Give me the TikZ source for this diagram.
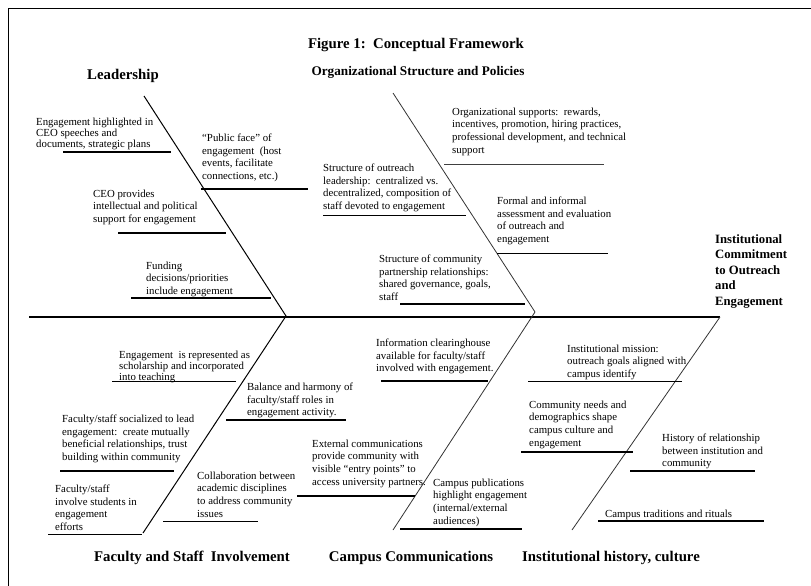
\documentclass[tikz,border=0pt]{standalone}
\usepackage{fontspec}
\setmainfont{Liberation Serif}
\begin{document}
\begin{tikzpicture}[x=1pt,y=-1pt,
    txt/.style={anchor=north west,inner sep=0pt,align=left,yshift=-2.5pt,
      font=\fontsize{10.8}{12.7}\selectfont,execute at begin node=\strut},
    head/.style={anchor=base,inner sep=0pt,font=\bfseries\fontsize{14.8}{17}\selectfont},
    bone/.style={line width=2pt},
    thinbone/.style={line width=1pt},
    spine/.style={line width=1pt,line join=miter},
    thinspine/.style={line width=0.8pt,black!80,line join=miter},
    mainspine/.style={line width=2.3pt}]
        \useasboundingbox (0,0) rectangle (811,586);
        \draw[line width=1pt] (8.5,586) -- (8.5,8.5) -- (811,8.5);

        \coordinate (lead) at (144,96);
        \coordinate (j1) at (286,316);
        \coordinate (fac) at (143,533);
        \coordinate (org) at (393,93);
        \coordinate (j2) at (535,312);
        \coordinate (camp) at (393,530);
        \coordinate (tail) at (29,317);
        \coordinate (effect) at (720,317);
        \coordinate (hist) at (572,530);

        \draw[mainspine] (tail) -- (effect);
        \draw[spine] (lead) -- (j1) -- (fac);
        \draw[thinspine] (org) -- (j2) -- (camp);
        \draw[thinspine] (effect) -- (hist);

        % headings
        \node[head] (title) at (416,48.5) {Figure 1:\ \ Conceptual Framework};
        \node[head] (hLead) at (123,79.5) {Leadership};
        \node[head,font=\bfseries\fontsize{13.2}{16}\selectfont] (hOrg) at (418,76) {Organizational Structure and Policies};
        \node[head] (hFac) at (192,561.5) {Faculty and Staff\ \ Involvement};
        \node[head] (hCamp) at (411,561.5) {Campus Communications};
        \node[head] (hHist) at (611,561.5) {Institutional history, culture};
        \node[txt,yshift=1pt,font=\bfseries\fontsize{12.7}{15.4}\selectfont] (commit) at (715,233)
          {Institutional\\Commitment\\to Outreach\\and\\Engagement};

        % leadership
        \node[txt,font=\fontsize{10.8}{11}\selectfont] (l1) at (36,115) {Engagement highlighted in\\CEO speeches and\\documents, strategic plans};
        \draw[bone] (63,152) -- (171,152);
        \node[txt] (l2) at (202,131) {“Public face” of\\engagement\ \ (host\\events, facilitate\\connections, etc.)};
        \draw[bone] (201,189) -- (308,189);
        \node[txt] (l3) at (93,187) {CEO provides\\intellectual and political\\support for engagement};
        \draw[bone] (118,233) -- (226,233);
        \node[txt] (l4) at (146,259) {Funding\\decisions/priorities\\include engagement};
        \draw[bone] (131,297.5) -- (271,297.5);

        % organizational structure
        \node[txt] (o1) at (452,105) {Organizational supports:\ \ rewards,\\incentives, promotion, hiring practices,\\professional development, and technical\\support};
        \draw[line width=1.3pt,black!75] (444,164.5) -- (604,164.5);
        \node[txt] (o2) at (323,161) {Structure of outreach\\leadership:\ \ centralized vs.\\decentralized, composition of\\staff devoted to engagement};
        \draw[thinbone] (323,215) -- (466,215);
        \node[txt] (o3) at (497,194) {Formal and informal\\assessment and evaluation\\of outreach and\\engagement};
        \draw[line width=1.5pt] (497,253.5) -- (608,253.5);
        \node[txt] (o4) at (379,252) {Structure of community\\partnership relationships:\\shared governance, goals,\\staff};
        \draw[line width=1.3pt] (400,304) -- (525,304);

        % faculty and staff
        \node[txt,font=\fontsize{10.8}{11}\selectfont] (f1) at (119,348.5) {Engagement\ \ is represented as\\scholarship and incorporated\\into teaching};
        \draw[thinbone] (112,381) -- (236,381);
        \node[txt] (f2) at (247,380) {Balance and harmony of\\faculty/staff roles in\\engagement activity.};
        \draw[bone] (226,420) -- (346,420);
        \node[txt] (f3) at (62,412) {Faculty/staff socialized to lead\\engagement:\ \ create mutually\\beneficial relationships, trust\\building within community};
        \draw[bone] (60,471) -- (174,471);
        \node[txt] (f4) at (55,482) {Faculty/staff\\involve students in\\engagement\\efforts};
        \draw[thinbone] (48,534.5) -- (142,534.5);
        \node[txt] (f5) at (197,469) {Collaboration between\\academic disciplines\\to address community\\issues};
        \draw[thinbone] (163,521) -- (258,521);

        % campus communications
        \node[txt] (c1) at (376,336) {Information clearinghouse\\available for faculty/staff\\involved with engagement.};
        \draw[line width=1.5pt] (381,381) -- (488,381);
        \node[txt] (c2) at (312,437) {External communications\\provide community with\\visible “entry points” to\\access university partners.};
        \draw[bone] (297,496) -- (415,496);
        \node[txt] (c3) at (433,476) {Campus publications\\highlight engagement\\(internal/external\\audiences)};
        \draw[bone] (400,528.5) -- (522,528.5);

        % institutional history
        \node[txt] (h1) at (567,342) {Institutional mission:\\outreach goals aligned with\\campus identify};
        \draw[thinbone] (528,381) -- (682,381);
        \node[txt] (h2) at (529,398) {Community needs and\\demographics shape\\campus culture and\\engagement};
        \draw[bone] (521,452) -- (633,452);
        \node[txt] (h3) at (662,431) {History of relationship\\between institution and\\community};
        \draw[bone] (630,471) -- (755,471);
        \node[txt] (h4) at (605,506) {Campus traditions and rituals};
        \draw[line width=1.3pt] (598,521) -- (764,521);
      \end{tikzpicture}
\end{document}
